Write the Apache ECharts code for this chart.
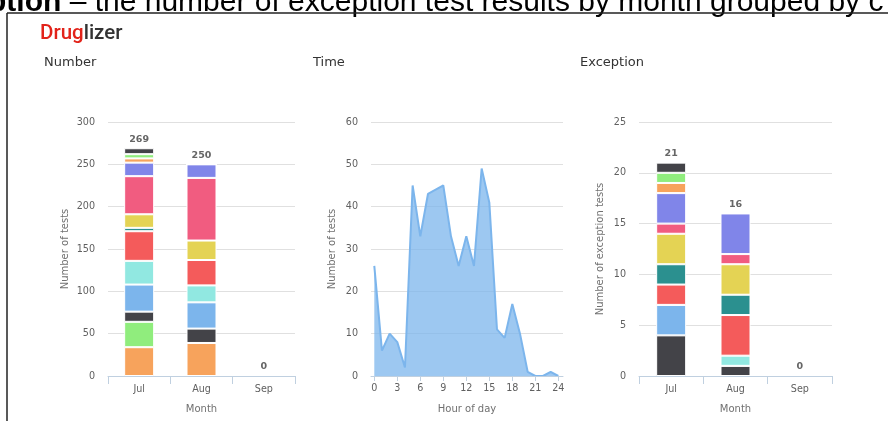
<!DOCTYPE html>
<html>
<head>
<meta charset="utf-8">
<script src="https://cdn.jsdelivr.net/npm/echarts@6/dist/echarts.min.js"></script>
<style>
  html, body { margin: 0; padding: 0; background: #fff; }
  #chart { width: 888px; height: 421px; }
</style>
</head>
<body>
<div id="chart"></div>
<script>
// ---- categories ----
const months = ['Jul', 'Aug', 'Sep'];
const hourTicks = [0, 3, 6, 9, 12, 15, 18, 21, 24];
const hours = [0, 1, 2, 3, 4, 5, 6, 7, 8, 9, 10, 11, 12, 13, 14, 15, 16, 17, 18, 19, 20, 21, 22, 23, 24];

// ---- tests per month, one array per group (group id selects its colour) ----
const tests13 = [34, 39, 0];
const tests12 = [30, 0, 0];
const tests11 = [12, 17, 0];
const tests10 = [32, 31, 0];
const tests9  = [28, 20, 0];
const tests8  = [35, 30, 0];
const tests7  = [4, 0, 0];
const tests6  = [16, 23, 0];
const tests5  = [45, 74, 0];
const tests4  = [16, 16, 0];
const tests3  = [5, 0, 0];
const tests2  = [5, 0, 0];
const tests1  = [7, 0, 0];

// ---- tests per hour of day ----
const hourTests = [26, 6, 10, 8, 2, 45, 33, 43, 44, 45, 33, 26, 33, 26, 49, 41, 11, 9, 17, 10, 1, 0, 0, 1, 0];

// ---- exception tests per month, one array per group ----
const exc11 = [4, 1, 0];
const exc10 = [3, 0, 0];
const exc9  = [0, 1, 0];
const exc8  = [2, 4, 0];
const exc7  = [2, 2, 0];
const exc6  = [3, 3, 0];
const exc5  = [1, 1, 0];
const exc4  = [3, 4, 0];
const exc3  = [1, 0, 0];
const exc2  = [1, 0, 0];
const exc1  = [1, 0, 0];

const palette = ['#7cb5ec', '#434348', '#90ed7d', '#f7a35c', '#8085e9',
                 '#f15c80', '#e4d354', '#2b908f', '#f45b5b', '#91e8e1'];

// stacks listed bottom to top: [group id, values]
const testStack = [[13, tests13], [12, tests12], [11, tests11], [10, tests10], [9, tests9],
  [8, tests8], [7, tests7], [6, tests6], [5, tests5], [4, tests4], [3, tests3], [2, tests2], [1, tests1]];
const excStack = [[11, exc11], [10, exc10], [9, exc9], [8, exc8], [7, exc7], [6, exc6],
  [5, exc5], [4, exc4], [3, exc3], [2, exc2], [1, exc1]];

const FONT = '"DejaVu Sans", sans-serif';
const LOGO_FONT = 'Roboto, "Noto Sans", sans-serif';
const CAPTION_FONT = '"Liberation Sans", Arial, sans-serif';
const axisColor = '#C0D0E0';
const gridColor = '#E0E0E0';
const labelColor = '#606060';
const nameColor = '#707070';

function totals(stack) {
  return months.map((_, i) => stack.reduce((s, g) => s + g[1][i], 0));
}

function stackSeries(stack, idx, key) {
  const out = stack.map(([id, vals]) => ({
    name: 'Group ' + id,
    type: 'bar',
    stack: key,
    xAxisIndex: idx,
    yAxisIndex: idx,
    barWidth: 30,
    data: vals,
    itemStyle: { color: palette[id % palette.length], borderColor: '#fff', borderWidth: 1 },
    emphasis: { disabled: true }
  }));
  // empty cap on each stack that carries the stack total as its label
  const sum = totals(stack);
  out.push({
    name: key + ' total',
    type: 'bar',
    stack: key,
    xAxisIndex: idx,
    yAxisIndex: idx,
    barWidth: 30,
    data: months.map(() => 0),
    silent: true,
    itemStyle: { color: 'rgba(0,0,0,0)', borderWidth: 0 },
    label: {
      show: true, position: 'top', distance: 4,
      formatter: p => String(sum[p.dataIndex]),
      color: '#666', fontWeight: 'bold', fontSize: 9.5, fontFamily: FONT
    }
  });
  return out;
}

function categoryX(idx) {
  return {
    type: 'category', gridIndex: idx, data: months, z: 5,
    axisLine: { show: true, lineStyle: { color: axisColor } },
    axisTick: { show: true, length: 8, lineStyle: { color: axisColor } },
    axisLabel: { color: labelColor, fontSize: 9.6, fontFamily: FONT, margin: 8 },
    name: 'Month', nameLocation: 'middle', nameGap: 28,
    nameTextStyle: { color: nameColor, fontSize: 10, fontFamily: FONT }
  };
}

function valueY(idx, max, interval, name, gap) {
  return {
    type: 'value', gridIndex: idx, min: 0, max: max, interval: interval,
    axisLine: { show: false }, axisTick: { show: false },
    splitLine: { lineStyle: { color: gridColor } },
    axisLabel: { color: labelColor, fontSize: 9.6, fontFamily: FONT, margin: 13 },
    name: name, nameLocation: 'middle', nameGap: gap,
    nameTextStyle: { color: nameColor, fontSize: 10, fontFamily: FONT }
  };
}

function panelTitle(text, left) {
  return {
    text: text, left: left, top: 56, padding: 0,
    textStyle: { color: '#333', fontSize: 13, fontWeight: 'normal', fontFamily: FONT }
  };
}

const chart = echarts.init(document.getElementById('chart'), null, { renderer: 'canvas' });

const option = {
  animation: false,
  backgroundColor: '#fff',
  textStyle: { fontFamily: FONT },
  title: [
    {
      text: '{a|Drug}{b|lizer}', left: 40, top: 23, padding: 0,
      textStyle: {
        fontWeight: 'normal',
        rich: {
          a: { color: '#e2231a', fontSize: 20.5, fontWeight: 500, fontFamily: LOGO_FONT },
          b: { color: '#333', fontSize: 20.5, fontWeight: 500, fontFamily: LOGO_FONT }
        }
      }
    },
    panelTitle('Number', 44),
    panelTitle('Time', 313),
    panelTitle('Exception', 580)
  ],
  graphic: [
    {
      type: 'text', left: -12, top: -12,
      style: {
        text: '{b|ption} – the number of exception test results by month grouped by c',
        fontSize: 30, fontFamily: CAPTION_FONT, fill: '#000',
        rich: { b: { fontWeight: 'bold', fontSize: 30, fontFamily: CAPTION_FONT } }
      }
    },
    { type: 'line', shape: { x1: 7, y1: 13, x2: 888, y2: 13 }, style: { stroke: '#222', lineWidth: 1.5 } },
    { type: 'line', shape: { x1: 7, y1: 13, x2: 7, y2: 421 }, style: { stroke: '#222', lineWidth: 1.5 } }
  ],
  grid: [
    { left: 108, top: 122, width: 187, height: 254 },
    { left: 371, top: 122, width: 192, height: 254 },
    { left: 639, top: 122, width: 193, height: 254 }
  ],
  xAxis: [
    categoryX(0),
    {
      type: 'value', gridIndex: 1, min: -0.43, max: 24.61, z: 5,
      axisLine: { show: true, onZero: false, lineStyle: { color: axisColor } },
      axisTick: { show: true, customValues: hourTicks, length: 5, lineStyle: { color: axisColor } },
      axisLabel: { customValues: hourTicks, color: labelColor, fontSize: 9.6, fontFamily: FONT, margin: 7 },
      splitLine: { show: false },
      name: 'Hour of day', nameLocation: 'middle', nameGap: 28,
      nameTextStyle: { color: nameColor, fontSize: 10, fontFamily: FONT }
    },
    categoryX(2)
  ],
  yAxis: [
    valueY(0, 300, 50, 'Number of tests', 38),
    valueY(1, 60, 10, 'Number of tests', 34),
    valueY(2, 25, 5, 'Number of exception tests', 34)
  ],
  series: [
    ...stackSeries(testStack, 0, 'tests'),
    {
      name: 'Tests by hour',
      type: 'line',
      xAxisIndex: 1, yAxisIndex: 1,
      data: hours.map((h, i) => [h, hourTests[i]]),
      showSymbol: false,
      lineStyle: { color: '#7cb5ec', width: 2 },
      areaStyle: { color: '#7cb5ec', opacity: 0.75 },
      itemStyle: { color: '#7cb5ec' }
    },
    ...stackSeries(excStack, 2, 'exceptions')
  ]
};

chart.setOption(option);
</script>
</body>
</html>
